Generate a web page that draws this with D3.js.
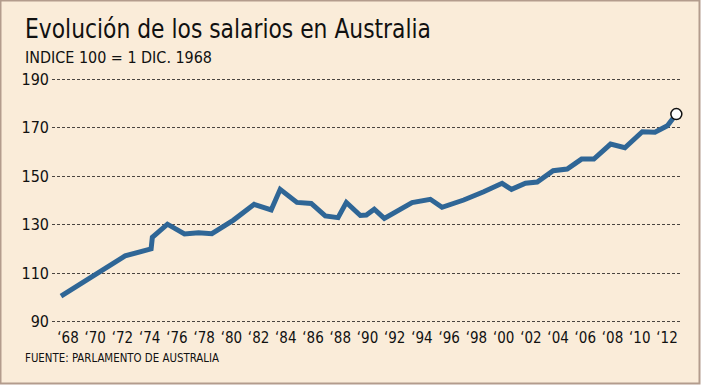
<!DOCTYPE html>
<html>
<head>
<meta charset="utf-8">
<script src="https://cdn.jsdelivr.net/npm/d3@7"></script>
<style>
  body { margin: 0; background: #fff; }
  text { font-family: "DejaVu Sans Condensed", "DejaVu Sans", sans-serif; fill: #111; }
</style>
</head>
<body>
<div id="chart"></div>
<script>
// wage index, 1 Dec 1968 = 100
const years = [1968.0, 1972.71, 1974.62, 1974.71, 1975.82, 1977.07, 1978.1, 1979.08, 1980.67, 1982.19,
  1983.44, 1984.1, 1985.33, 1986.38, 1987.41, 1988.35, 1988.96, 1989.99, 1990.43, 1991.01,
  1991.75, 1993.79, 1995.13, 1995.99, 1997.58, 1999.05, 2000.4, 2001.09, 2002.12, 2002.98,
  2004.15, 2005.18, 2006.24, 2007.14, 2008.37, 2009.42, 2010.7, 2011.63, 2012.54, 2013.2];
const values = [100.3, 116.9, 119.8, 124.6, 130.0, 126.0, 126.5, 126.1, 131.7, 138.2,
  135.9, 144.4, 139.0, 138.6, 133.4, 132.7, 139.0, 133.6, 133.8, 136.2,
  132.4, 138.9, 140.3, 137.0, 140.0, 143.4, 146.9, 144.4, 146.9, 147.4,
  152.1, 152.8, 156.9, 156.9, 163.1, 161.6, 168.2, 168.0, 170.7, 175.5];
const yTicks = [90, 110, 130, 150, 170, 190];
const xTicks = d3.range(1968, 2013, 2);

const width = 701, height = 385;

const svg = d3.select("#chart").append("svg")
  .attr("width", width)
  .attr("height", height);

svg.append("rect")
  .attr("x", 0.5).attr("y", 0.5)
  .attr("width", width - 2).attr("height", height - 2)
  .attr("fill", "#faecd9")
  .attr("stroke", "#b39c8d")
  .attr("stroke-width", 2);

const x = d3.scaleLinear().domain([1968, 2012]).range([61, 660]);
const y = d3.scaleLinear().domain([90, 190]).range([321, 79]);

svg.append("text")
  .attr("x", 25).attr("y", 38)
  .attr("textLength", 406)
  .attr("lengthAdjust", "spacingAndGlyphs")
  .style("font-size", "26px")
  .text("Evolución de los salarios en Australia");

svg.append("text")
  .attr("x", 25).attr("y", 63)
  .attr("textLength", 187)
  .attr("lengthAdjust", "spacingAndGlyphs")
  .style("font-size", "16px")
  .text("INDICE 100 = 1 DIC. 1968");

// grid
svg.append("g").selectAll("line")
  .data(yTicks)
  .join("line")
  .attr("x1", 52).attr("x2", 681)
  .attr("y1", d => Math.round(y(d)) + 0.5)
  .attr("y2", d => Math.round(y(d)) + 0.5)
  .attr("stroke", "#4a4440")
  .attr("stroke-width", 1)
  .attr("stroke-dasharray", "3,2");

svg.append("g").selectAll("text")
  .data(yTicks)
  .join("text")
  .attr("x", 49)
  .attr("y", d => y(d) + 6)
  .attr("text-anchor", "end")
  .style("font-size", "16px")
  .text(d => d);

svg.append("g").selectAll("text")
  .data(xTicks)
  .join("text")
  .attr("x", d => x(d) + 7)
  .attr("y", 343)
  .attr("text-anchor", "middle")
  .style("font-size", "15px")
  .text(d => "\u2018" + String(d).slice(2));

const line = d3.line()
  .x((d, i) => x(years[i]))
  .y(d => y(d));

svg.append("path")
  .datum(values)
  .attr("fill", "none")
  .attr("stroke", "#2f6696")
  .attr("stroke-width", 5)
  .attr("stroke-linejoin", "miter")
  .attr("d", line);

svg.append("circle")
  .attr("cx", x(years[years.length - 1]))
  .attr("cy", y(values[values.length - 1]))
  .attr("r", 5.5)
  .attr("fill", "#fff")
  .attr("stroke", "#111")
  .attr("stroke-width", 1.5);

svg.append("text")
  .attr("x", 25).attr("y", 362)
  .attr("textLength", 194)
  .attr("lengthAdjust", "spacingAndGlyphs")
  .style("font-size", "12.5px")
  .text("FUENTE: PARLAMENTO DE AUSTRALIA");
</script>
</body>
</html>
